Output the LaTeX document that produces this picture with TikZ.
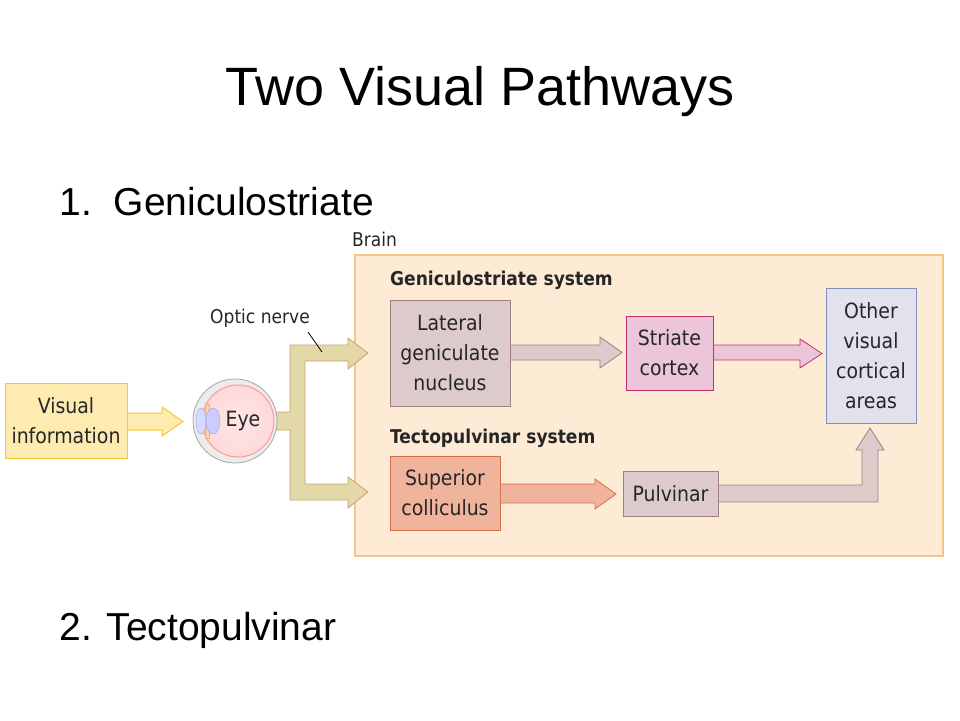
\documentclass[tikz,border=0pt]{standalone}
\usepackage{fontspec}
\setmainfont{Liberation Sans}
\newfontfamily\cond{DejaVu Sans Condensed}
\begin{document}
\begin{tikzpicture}[x=1pt,y=-1pt,
  lbl/.style={font=\cond\fontsize{21}{30}\selectfont,text=black!85,align=center,inner sep=0},
  hd/.style={font=\cond\bfseries\fontsize{19}{22}\selectfont,text=black!85,anchor=west,inner sep=0}]
\useasboundingbox (0,0) rectangle (960,720);
\definecolor{brainf}{HTML}{FDEBD5}\definecolor{brainb}{HTML}{F8C48A}
\definecolor{lgnf}{HTML}{DDCBCB}\definecolor{lgnb}{HTML}{A07F7F}
\definecolor{strf}{HTML}{EDC5D8}\definecolor{strb}{HTML}{C03070}
\definecolor{othf}{HTML}{E1E2EE}\definecolor{othb}{HTML}{7E8DBE}
\definecolor{scf}{HTML}{EFB49B}\definecolor{scb}{HTML}{D4704A}
\definecolor{visf}{HTML}{FDEBB0}\definecolor{visb}{HTML}{F3C930}
\definecolor{onf}{HTML}{E3D8A8}\definecolor{onb}{HTML}{C9A070}
\node[font=\fontsize{54}{60}\selectfont] (title) at (480,92) {Two Visual Pathways};
\node[font=\fontsize{39}{44}\selectfont,anchor=west] (p1) at (56,202) {1.\ \ Geniculostriate};
\node[font=\fontsize{39}{44}\selectfont,anchor=west] (p2) at (56,630) {2. Tectopulvinar};
% brain
\draw[fill=brainf,draw=brainb,line width=1.2pt] (355,255) rectangle (943,556);
\node[lbl,anchor=west,font=\cond\fontsize{19}{22}\selectfont] (brain) at (352,239) {Brain};
\node[hd] (gs) at (390,280) {Geniculostriate system};
\node[hd] (ts) at (390,438) {Tectopulvinar system};
% arrows
\draw[fill=lgnf,draw=lgnb,line width=0.8pt] (510,345)--(600,345)--(600,337)--(622,352.5)--(600,368)--(600,360)--(510,360);
\draw[fill=strf,draw=strb,line width=0.8pt] (713,345)--(800,345)--(800,339)--(822,353.5)--(800,368)--(800,360)--(713,360);
\draw[fill=scf,draw=scb,line width=0.8pt] (500,484)--(595,484)--(595,479)--(616,494)--(595,509)--(595,503)--(500,503);
\draw[fill=lgnf,draw=lgnb,line width=0.8pt] (718,485)--(862,485)--(862,450)--(856,450)--(870,428)--(884,450)--(878,450)--(878,502)--(718,502);
\draw[fill=visf,draw=visb,line width=1pt] (127,413)--(162,413)--(162,407)--(183,421.5)--(162,436)--(162,430)--(127,430);
\draw[fill=onf,draw=onb,line width=0.8pt] (276,412)--(290,412)--(290,345)--(348,345)--(348,338)--(368,353)--(348,369)--(348,361)--(305,361)--(305,484)--(348,484)--(348,477)--(368,492)--(348,508)--(348,500)--(290,500)--(290,430)--(276,430)--cycle;
% boxes
\node[draw=lgnb,line width=1pt,fill=lgnf,minimum width=120,minimum height=106,lbl] (lgn) at (450,353) {Lateral\\geniculate\\nucleus};
\node[draw=strb,line width=1pt,fill=strf,minimum width=87,minimum height=74,lbl] (str) at (669.5,353) {Striate\\cortex};
\node[draw=othb,line width=1pt,fill=othf,minimum width=90,minimum height=135,lbl] (oth) at (871,355.5) {Other\\visual\\cortical\\areas};
\node[draw=scb,line width=1pt,fill=scf,minimum width=110,minimum height=74,lbl] (sc) at (445,493) {Superior\\colliculus};
\node[draw=lgnb,line width=1pt,fill=lgnf,minimum width=95,minimum height=45,lbl] (pul) at (670.5,493.5) {Pulvinar};
\node[draw=visb,line width=1pt,fill=visf,minimum width=122,minimum height=75,lbl] (vis) at (66,420.5) {Visual\\information};
% eye
\draw[fill=gray!15,draw=gray!70,line width=0.8pt] (235,421) circle (42);
\shade[inner color=white!90!red,outer color=red!15,draw=red!40,line width=1pt] (238,421) circle (36);
\draw[fill=orange!35,draw=orange!60] (205,404) rectangle (209,438);
\draw[fill=blue!15,draw=blue!40] (201,421) ellipse (5 and 13);
\draw[fill=blue!20,draw=blue!40] (213,421) ellipse (7 and 13);
\node[lbl] (eye) at (243,421) {Eye};
% optic nerve label
\node[lbl,font=\cond\fontsize{19}{22}\selectfont] (on) at (260,318) {Optic nerve};
\coordinate (ont) at (322,352);
\draw[line width=0.8pt] (308,332) -- (ont);
\end{tikzpicture}
\end{document}
